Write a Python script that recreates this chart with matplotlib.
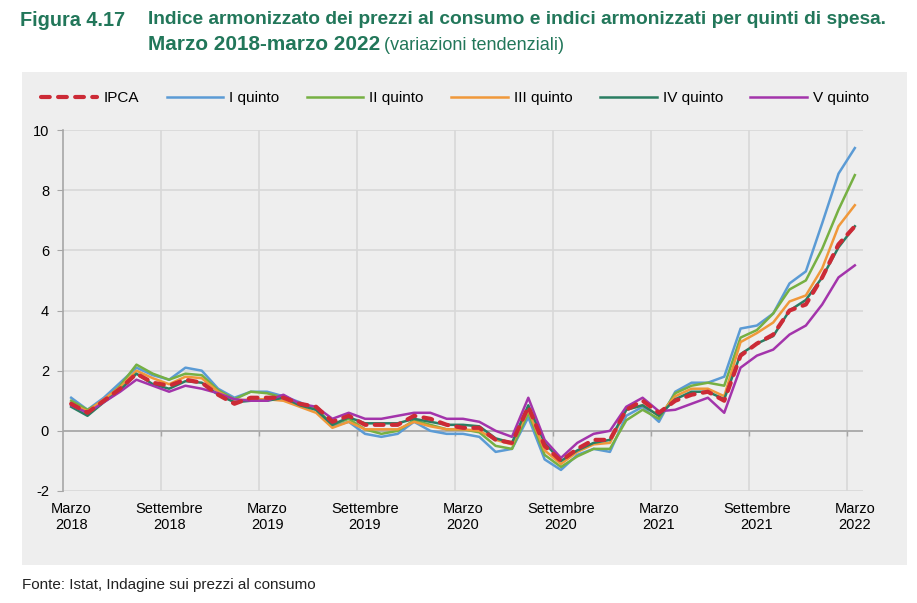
import matplotlib
matplotlib.use("Agg")
import matplotlib.pyplot as plt
from matplotlib import font_manager
import numpy as np

names = {f.name for f in font_manager.fontManager.ttflist}
NARROW = "Liberation Sans Narrow" if "Liberation Sans Narrow" in names else (
    "DejaVu Sans Condensed" if "DejaVu Sans Condensed" in names else "Liberation Sans")
plt.rcParams["font.family"] = ["Liberation Sans", "DejaVu Sans"]
plt.rcParams["axes.unicode_minus"] = False

# ---- data (Marzo 2018 - Marzo 2022, monthly) ----
tick_labels = ["Marzo\n2018", "Settembre\n2018", "Marzo\n2019", "Settembre\n2019",
               "Marzo\n2020", "Settembre\n2020", "Marzo\n2021", "Settembre\n2021",
               "Marzo\n2022"]

ipca = [0.9, 0.6, 1.0, 1.4, 1.9, 1.6, 1.5, 1.7, 1.6, 1.2, 0.9, 1.1, 1.1, 1.1, 0.9, 0.8,
        0.3, 0.5, 0.2, 0.2, 0.2, 0.5, 0.4, 0.2, 0.1, 0.1, -0.3, -0.4, 0.8, -0.5, -1.0,
        -0.6, -0.3, -0.3, 0.7, 1.0, 0.6, 1.0, 1.2, 1.3, 1.0, 2.5, 2.9, 3.2, 4.0, 4.2,
        5.1, 6.2, 6.8]
q1 = [1.1, 0.7, 1.1, 1.6, 2.1, 1.85, 1.7, 2.1, 2.0, 1.4, 1.1, 1.3, 1.3, 1.15, 0.95, 0.7,
      0.15, 0.3, -0.1, -0.2, -0.1, 0.3, 0.0, -0.1, -0.1, -0.2, -0.7, -0.6, 0.45, -0.95,
      -1.3, -0.8, -0.6, -0.7, 0.5, 0.8, 0.3, 1.3, 1.6, 1.6, 1.8, 3.4, 3.5, 3.9, 4.9, 5.3,
      6.9, 8.55, 9.4]
q2 = [1.0, 0.7, 1.0, 1.5, 2.2, 1.9, 1.7, 1.9, 1.85, 1.35, 1.05, 1.3, 1.25, 1.1, 0.9, 0.75,
      0.2, 0.4, 0.05, -0.1, 0.0, 0.35, 0.2, 0.05, 0.05, -0.05, -0.5, -0.6, 0.6, -0.8,
      -1.2, -0.85, -0.6, -0.6, 0.35, 0.7, 0.4, 1.25, 1.5, 1.6, 1.5, 3.1, 3.35, 3.9, 4.7,
      5.0, 6.05, 7.35, 8.5]
q3 = [0.9, 0.65, 1.05, 1.45, 2.0, 1.75, 1.55, 1.8, 1.75, 1.3, 1.0, 1.05, 1.05, 1.0, 0.8,
      0.6, 0.1, 0.3, 0.05, 0.05, 0.05, 0.3, 0.15, 0.05, 0.05, 0.0, -0.3, -0.45, 0.7, -0.65,
      -1.1, -0.7, -0.45, -0.4, 0.7, 0.85, 0.5, 1.15, 1.4, 1.4, 1.15, 2.95, 3.25, 3.6, 4.3,
      4.5, 5.4, 6.8, 7.5]
q4 = [0.8, 0.5, 0.95, 1.35, 1.9, 1.55, 1.4, 1.65, 1.6, 1.2, 0.95, 1.0, 1.0, 1.1, 0.85, 0.7,
      0.2, 0.45, 0.25, 0.25, 0.25, 0.4, 0.3, 0.2, 0.2, 0.15, -0.25, -0.4, 0.85, -0.4, -1.0,
      -0.65, -0.4, -0.3, 0.7, 0.85, 0.5, 1.05, 1.3, 1.3, 1.05, 2.55, 2.9, 3.15, 4.0, 4.35,
      5.1, 6.1, 6.8]
q5 = [0.85, 0.6, 0.95, 1.3, 1.7, 1.5, 1.3, 1.5, 1.4, 1.25, 1.05, 1.0, 1.0, 1.2, 0.9, 0.8,
      0.4, 0.6, 0.4, 0.4, 0.5, 0.6, 0.6, 0.4, 0.4, 0.3, 0.0, -0.2, 1.1, -0.3, -0.9, -0.4,
      -0.1, 0.0, 0.8, 1.1, 0.65, 0.7, 0.9, 1.1, 0.6, 2.1, 2.5, 2.7, 3.2, 3.5, 4.2, 5.1, 5.5]

series = [
    ("I quinto", q1, "#5b9bd5"),
    ("II quinto", q2, "#76b043"),
    ("III quinto", q3, "#f0983a"),
    ("IV quinto", q4, "#2a7d62"),
    ("V quinto", q5, "#a334ab"),
]

W, H = 917, 603
fig = plt.figure(figsize=(W / 100, H / 100), dpi=100)
fig.patch.set_facecolor("white")

# grey panel
panel = plt.Rectangle((22 / W, 1 - 565 / H), (907 - 22) / W, (565 - 72) / H,
                      transform=fig.transFigure, facecolor="#eeeeee", edgecolor="none",
                      zorder=-10)
fig.patches.append(panel)

ax = fig.add_axes([63 / W, 1 - 491 / H, (863 - 63) / W, (491 - 130) / H])
ax.set_zorder(1)
ax.set_facecolor("none")

n = len(ipca)
x = np.arange(n)

for name, vals, col in series:
    ax.plot(x, vals, color=col, lw=1.8, label=name, zorder=3,
            solid_joinstyle="round")
ax.plot(x, ipca, color="#cc2a36", lw=3.0, ls=(0, (2.1, 2.0)), label="IPCA", zorder=4,
        dash_capstyle="round")

ax.set_xlim(-0.5, n - 0.5)
ax.set_ylim(-2, 10)

# grid
ax.set_yticks(np.arange(-2, 11, 2))
ax.yaxis.grid(True, color="#d8d8d8", lw=1.2)
bounds = np.arange(-0.5, n - 1, 6)
for b in bounds[1:]:
    ax.axvline(b, color="#d8d8d8", lw=1.2, zorder=1)
ax.axhline(0, color="#a6a6a6", lw=1.2, zorder=2)
ax.vlines(bounds[1:], -0.17, 0, color="#a6a6a6", lw=1.0, zorder=2)
ax.set_axisbelow(True)

ax.set_xticks(np.arange(0, n, 6))
ax.set_xticklabels(tick_labels, fontsize=10.5, linespacing=1.15, family=NARROW)
ax.tick_params(axis="x", length=0, pad=8)
ax.tick_params(axis="y", length=4, color="#a6a6a6", labelsize=10.5, pad=6)
for lab in ax.get_yticklabels():
    lab.set_family(NARROW)
for s in ["top", "right", "bottom"]:
    ax.spines[s].set_visible(False)
ax.spines["left"].set_color("#a6a6a6")
ax.spines["left"].set_linewidth(1.2)

# legend
handles, labels = ax.get_legend_handles_labels()
order = [5, 0, 1, 2, 3, 4]
leg = fig.legend([handles[i] for i in order], [labels[i] for i in order],
                 loc="center", bbox_to_anchor=(455 / W, 1 - 98 / H), ncol=6,
                 frameon=False, prop={"family": NARROW, "size": 11},
                 handlelength=3.7, columnspacing=1.8, handletextpad=0.4)

# titles
green = "#22775a"
fig.canvas.draw()
r = fig.canvas.get_renderer()


def fit_text(xpx, ypx, s, target_w, **kw):
    t = fig.text(xpx / W, 1 - ypx / H, s, va="center", ha="left", color=green,
                 family=NARROW, fontsize=15, **kw)
    w = t.get_window_extent(r).width
    t.set_fontsize(15 * target_w / w)
    return t


fit_text(20, 20, "Figura 4.17", 105, fontweight="bold")
fit_text(148, 20,
         "Indice armonizzato dei prezzi al consumo e indici armonizzati per quinti di spesa.",
         742, fontweight="bold")
t1 = fit_text(148, 45, "Marzo 2018-marzo 2022", 233, fontweight="bold")
bb = t1.get_window_extent(r)
fit_text(bb.x1 + 4, 45, "(variazioni tendenziali)", 180)

fig.text(22 / W, 1 - 585 / H, "Fonte: Istat, Indagine sui prezzi al consumo",
         fontsize=11, va="center", ha="left", color="#222222", family=NARROW)

fig.savefig("out.png", dpi=100)
